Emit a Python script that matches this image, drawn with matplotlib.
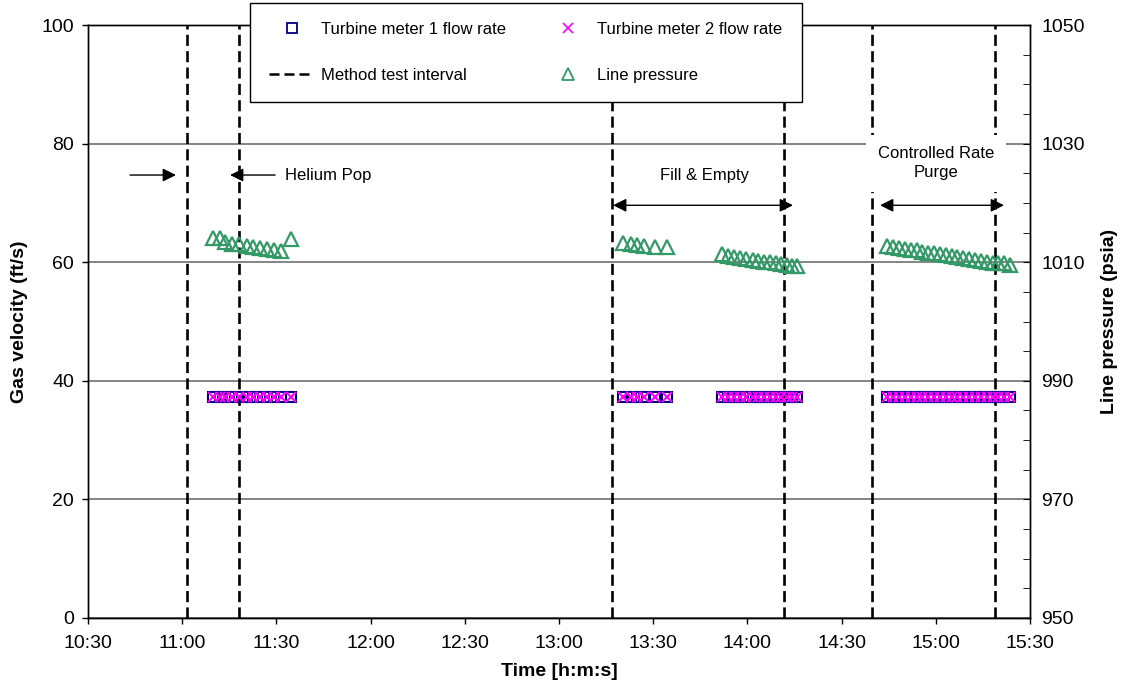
import matplotlib
matplotlib.use("Agg")
import matplotlib.pyplot as plt
from matplotlib.ticker import FuncFormatter, MultipleLocator
from matplotlib.lines import Line2D

plt.rcParams['font.family'] = ['Liberation Sans', 'DejaVu Sans']

# ---- data ----
flow_times = [
    "11:09:43", "11:12:02", "11:13:38", "11:15:46", "11:18:11", "11:20:32",
    "11:22:38", "11:24:47", "11:26:55", "11:29:14", "11:31:22", "11:34:33",
    "13:20:29", "13:22:50", "13:24:56", "13:27:04", "13:30:34", "13:34:18",
    "13:51:49", "13:53:55", "13:55:44", "13:57:38", "13:59:33", "14:01:41",
    "14:03:28", "14:05:23", "14:07:12", "14:09:01", "14:10:42", "14:12:31",
    "14:14:07", "14:15:53",
    "14:44:22", "14:46:28", "14:48:22", "14:50:11", "14:52:06", "14:53:55",
    "14:55:42", "14:57:37", "14:59:26", "15:01:20", "15:03:09", "15:05:04",
    "15:06:51", "15:08:46", "15:10:40", "15:12:29", "15:14:18", "15:16:13",
    "15:18:07", "15:19:54", "15:21:49", "15:23:38",
]
meter1_velocity = [37.2] * len(flow_times)
meter2_velocity = [37.2] * len(flow_times)
line_pressure = [
    1014.1, 1014.0, 1013.4, 1013.0, 1013.0, 1012.8,
    1012.6, 1012.4, 1012.2, 1012.1, 1011.9, 1013.9,
    1013.3, 1013.1, 1012.9, 1012.8, 1012.5, 1012.5,
    1011.3, 1011.0, 1010.8, 1010.7, 1010.5, 1010.3,
    1010.2, 1010.0, 1010.0, 1009.8, 1009.7, 1009.5,
    1009.4, 1009.3,
    1012.8, 1012.6, 1012.4, 1012.3, 1012.1, 1012.0,
    1011.8, 1011.6, 1011.5, 1011.3, 1011.2, 1011.0,
    1010.8, 1010.7, 1010.5, 1010.3, 1010.2, 1010.0,
    1009.9, 1009.8, 1009.8, 1009.6,
]
interval_times = ["11:01:32", "11:18:05", "13:16:53", "14:11:40", "14:39:41", "15:18:51"]
x_ticks = ["10:30", "11:00", "11:30", "12:00", "12:30", "13:00",
           "13:30", "14:00", "14:30", "15:00", "15:30"]
velocity_ticks = [0, 20, 40, 60, 80, 100]
pressure_ticks = [950, 970, 990, 1010, 1030, 1050]


def to_hours(s):
    parts = [int(p) for p in s.split(":")]
    while len(parts) < 3:
        parts.append(0)
    return parts[0] + parts[1] / 60 + parts[2] / 3600


tf = [to_hours(t) for t in flow_times]
ti = [to_hours(t) for t in interval_times]
tx = [to_hours(t) for t in x_ticks]

fig = plt.figure(figsize=(11.25, 6.92), dpi=100)
ax = fig.add_axes([88 / 1125, 1 - 618 / 692, (1030 - 88) / 1125, (618 - 25) / 692])
ax2 = ax.twinx()

ax.set_xlim(tx[0], tx[-1])
ax.set_ylim(velocity_ticks[0], velocity_ticks[-1])
ax2.set_ylim(pressure_ticks[0], pressure_ticks[-1])

ax.set_yticks(velocity_ticks)
ax2.set_yticks(pressure_ticks)
ax2.yaxis.set_minor_locator(MultipleLocator(5))
ax.set_xticks(tx)
ax.set_xticklabels(x_ticks)

ax.grid(axis='y', color='#707070', lw=1.2)
ax.set_axisbelow(True)

ax.tick_params(axis='both', labelsize=14, direction='out', length=4, width=1)
ax.tick_params(axis='x', pad=8)
ax.tick_params(axis='y', pad=6)
ax2.tick_params(axis='y', which='major', labelsize=14, direction='in', length=5, pad=8)
ax2.tick_params(axis='y', which='minor', direction='in', length=5)

for a in (ax, ax2):
    for s in a.spines.values():
        s.set_color('black')
        s.set_linewidth(1)

# interval lines
for t in ti:
    ax.axvline(t, color='black', lw=1.9, linestyle=(0, (4.2, 2)), zorder=2)

# markers
ax.plot(tf, meter1_velocity, linestyle='none', marker='s', ms=7.5, mfc='none',
        mec='#000080', mew=1.5, zorder=3)
ax.plot(tf, meter2_velocity, linestyle='none', marker='x', ms=7.5,
        mec='#FF00FF', mew=1.5, zorder=4)
ax2.plot(tf, line_pressure, linestyle='none', marker='^', ms=10.5, mfc='none',
         mec='#339966', mew=1.6, zorder=3)

ax.set_xlabel("Time [h:m:s]", fontsize=14, fontweight='bold', labelpad=8)
ax.set_ylabel("Gas velocity (ft/s)", fontsize=14, fontweight='bold', labelpad=10)
ax2.set_ylabel("Line pressure (psia)", fontsize=14, fontweight='bold', labelpad=12)

# annotations
arrow_kw = dict(color='black', lw=1.0, mutation_scale=20, shrinkA=0, shrinkB=0)
ax.annotate('', xy=(10.967, 74.7), xytext=(10.723, 74.7),
            arrowprops=dict(arrowstyle='-|>', **arrow_kw))
ax.annotate('', xy=(11.254, 74.7), xytext=(11.493, 74.7),
            arrowprops=dict(arrowstyle='-|>', **arrow_kw))
ax.text(11.546, 74.7, "Helium Pop", fontsize=12, va='center', ha='left')

ax.annotate('', xy=(13.287, 69.6), xytext=(14.242, 69.6),
            arrowprops=dict(arrowstyle='<|-|>', **arrow_kw))
ax.text(13.77, 74.7, "Fill & Empty", fontsize=12, va='center', ha='center')

ax.annotate('', xy=(14.704, 69.6), xytext=(15.362, 69.6),
            arrowprops=dict(arrowstyle='<|-|>', **arrow_kw))
ax.text(15.001, 76.7, "Controlled Rate\nPurge", fontsize=12, va='center', ha='center',
        linespacing=1.3, zorder=5,
        bbox=dict(boxstyle='square,pad=0.7', fc='white', ec='none'))

# legend
handles = [
    Line2D([], [], linestyle='none', marker='s', ms=7, mfc='none', mec='#000080', mew=1.3),
    Line2D([], [], color='black', lw=1.8, linestyle=(0, (4, 2))),
    Line2D([], [], linestyle='none', marker='x', ms=7, mec='#FF00FF', mew=1.2),
    Line2D([], [], linestyle='none', marker='^', ms=8, mfc='none', mec='#339966', mew=1.3),
]
labels = ["Turbine meter 1 flow rate", "Method test interval",
          "Turbine meter 2 flow rate", "Line pressure"]
leg = fig.legend(handles, labels, loc='upper left', bbox_to_anchor=(250 / 1125, 1 - 3 / 692),
                 ncol=2, fontsize=12, frameon=True, fancybox=False, borderaxespad=0,
                 borderpad=1.15, labelspacing=1.85, handlelength=2.7, handletextpad=0.4,
                 columnspacing=2.4)
leg.get_frame().set_edgecolor('black')
leg.get_frame().set_linewidth(1)
leg.get_frame().set_alpha(1)

fig.savefig("out.png", dpi=100)
